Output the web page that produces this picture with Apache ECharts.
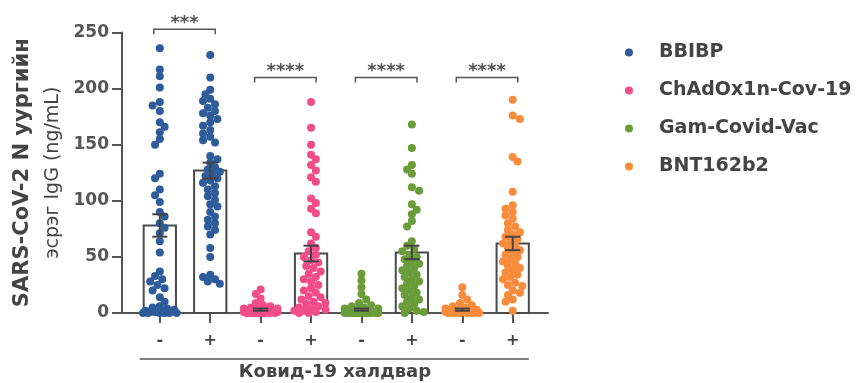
<!DOCTYPE html>
<html>
<head>
<meta charset="utf-8">
<script src="https://cdn.jsdelivr.net/npm/echarts@6/dist/echarts.min.js"></script>
<style>
  html, body { margin: 0; padding: 0; background: #fff; }
  #chart { width: 863px; height: 383px; }
</style>
</head>
<body>
<div id="chart"></div>
<script>
// vaccine groups, each split by Covid-19 infection (- / +)
const vaccines = ['BBIBP', 'ChAdOx1n-Cov-19', 'Gam-Covid-Vac', 'BNT162b2'];
const infection = ['-', '+', '-', '+', '-', '+', '-', '+'];
const colors = ['#2e5c9a', '#f24d88', '#6a9c3a', '#f98c3c'];

// bar heights (mean) and error bars (SEM)
const barMeans = [78, 127, 3, 53, 3, 54, 3, 62];
const barSem = [10, 7, 1, 7, 1, 6, 1, 6];

// individual IgG values (ng/mL)
const bbibpNeg = [236, 217, 211, 201, 188, 185, 180, 170, 166, 161, 155, 150, 124, 120, 110, 105, 99, 90, 86, 80, 76, 71, 64, 54,
  37, 33, 30, 28, 25, 22, 20, 14, 10, 6, 5, 4, 3, 2, 2, 1, 1, 0, 0, 0, 0, 0, 0];
const bbibpPos = [230, 210, 199, 195, 191, 189, 186, 183, 180, 178, 176, 173, 170, 167, 163, 160, 157, 154, 152, 140, 137, 134,
  130, 128, 126, 124, 122, 120, 118, 116, 113, 110, 107, 104, 101, 97, 95, 90, 86, 83, 80, 77, 74, 70, 58, 50, 34, 32, 30, 28, 26];
const chadNeg = [21, 17, 13, 9, 7, 6, 5, 4, 4, 3, 3, 2, 2, 2, 1, 1, 1, 1, 0, 0, 0, 0, 0, 0, 0, 0, 0, 0];
const chadPos = [188, 165, 150, 141, 137, 132, 127, 121, 117, 102, 98, 93, 89, 72, 68, 62, 58, 55, 52, 50, 47, 45, 42, 40, 37,
  35, 32, 30, 28, 25, 22, 20, 18, 15, 14, 12, 10, 9, 8, 6, 5, 4, 3, 2, 2, 1, 0, 0];
const gamNeg = [35, 29, 23, 17, 12, 9, 7, 6, 5, 4, 4, 3, 2, 2, 1, 1, 0, 0, 0, 0, 0, 0, 0, 0, 0, 0, 0, 0, 0];
const gamPos = [168, 147, 132, 128, 124, 112, 109, 97, 92, 88, 82, 77, 64, 60, 57, 55, 52, 50, 48, 46, 44, 42, 40, 38, 36, 34,
  32, 30, 28, 26, 24, 22, 20, 18, 16, 14, 12, 10, 8, 6, 4, 2, 1, 0];
const bntNeg = [23, 16, 12, 9, 7, 6, 5, 4, 3, 3, 2, 2, 1, 1, 0, 0, 0, 0, 0, 0, 0, 0];
const bntPos = [190, 176, 173, 139, 135, 108, 96, 93, 90, 87, 84, 80, 77, 74, 72, 70, 68, 66, 64, 62, 60, 58, 56, 54, 52, 50,
  48, 46, 44, 42, 40, 38, 36, 34, 32, 30, 27, 25, 24, 20, 18, 16, 12, 10, 2];

const groups = [bbibpNeg, bbibpPos, chadNeg, chadPos, gamNeg, gamPos, bntNeg, bntPos];

// significance brackets
const sigPairs = [[0, 1], [2, 3], [4, 5], [6, 7]];
const sigHeights = [253, 210, 210, 210];
const sigLabels = ['***', '****', '****', '****'];

const TEXT = '#444';
const FONT = 'DejaVu Sans';

// grid geometry (px), used for the beeswarm spacing
const grid = { left: 122, right: 315, top: 32.5, bottom: 70, containLabel: false, outerBoundsMode: 'none' };
const xMin = 0.25, xMax = 8.7, yMax = 250;
const pxX = (863 - grid.left - grid.right) / (xMax - xMin);
const pxY = (383 - grid.top - grid.bottom) / yMax;

// simple beeswarm: spread points sideways so they don't pile up
function swarm(vals, center) {
  const placed = [];
  const out = [];
  const step = 2.4, maxOff = 17, minDist = 6.5;
  vals.forEach((v, n) => {
    const py = v * pxY;
    let best = 0, bestScore = -1;
    const first = n % 2 === 0 ? 1 : -1;
    for (let k = 0; k * step <= maxOff; k++) {
      for (const s of [first, -first]) {
        const off = s * k * step;
        let md = Infinity;
        placed.forEach(p => {
          const d = Math.hypot(p[0] - off, p[1] - py);
          if (d < md) md = d;
        });
        if (md >= minDist) { best = off; bestScore = Infinity; break; }
        if (md > bestScore) { bestScore = md; best = off; }
        if (k === 0) break;
      }
      if (bestScore === Infinity) break;
    }
    placed.push([best, py]);
    out.push([center + best / pxX, v]);
  });
  return out;
}

const chart = echarts.init(document.getElementById('chart'));

const scatterSeries = vaccines.map((name, vi) => ({
  name: name,
  type: 'scatter',
  symbol: 'circle',
  symbolSize: 8,
  z: 3,
  itemStyle: { color: colors[vi], opacity: 1 },
  data: [].concat(
    swarm(groups[vi * 2], vi * 2 + 1),
    swarm(groups[vi * 2 + 1], vi * 2 + 2)
  )
}));

const option = {
  animation: false,
  backgroundColor: '#fff',
  grid: grid,
  legend: {
    orient: 'vertical',
    left: 620,
    top: 38,
    icon: 'circle',
    itemWidth: 8,
    itemHeight: 8,
    itemGap: 19,
    data: vaccines,
    textStyle: { color: TEXT, fontFamily: FONT, fontWeight: 'bold', fontSize: 19, padding: [0, 0, 0, 21] }
  },
  xAxis: {
    type: 'value',
    min: xMin,
    max: xMax,
    name: 'Ковид-19 халдвар',
    nameLocation: 'middle',
    nameGap: 50,
    nameTextStyle: { color: TEXT, fontFamily: FONT, fontWeight: 'bold', fontSize: 18 },
    axisLine: { lineStyle: { color: '#555', width: 2 } },
    axisTick: { show: true, length: 10, customValues: [1, 2, 3, 4, 5, 6, 7, 8], lineStyle: { color: '#555', width: 2 } },
    axisLabel: {
      customValues: [1, 2, 3, 4, 5, 6, 7, 8],
      formatter: v => infection[Math.round(v) - 1],
      margin: 20,
      color: TEXT, fontFamily: FONT, fontWeight: 'bold', fontSize: 16
    },
    splitLine: { show: false }
  },
  yAxis: {
    type: 'value',
    min: 0,
    max: yMax,
    interval: 50,
    name: '{a|SARS-CoV-2 N уургийн}\n{b|эсрэг IgG (ng/mL)}',
    nameLocation: 'middle',
    nameRotate: 90,
    nameGap: 54,
    nameTextStyle: {
      rich: {
        a: { color: TEXT, fontFamily: FONT, fontWeight: 'bold', fontSize: 21, lineHeight: 30 },
        b: { color: TEXT, fontFamily: FONT, fontSize: 19, lineHeight: 30 }
      }
    },
    axisLine: { show: true, lineStyle: { color: '#555', width: 2 } },
    axisTick: { show: true, length: 10, lineStyle: { color: '#555', width: 2 } },
    axisLabel: { margin: 13, color: '#555', fontFamily: FONT, fontWeight: 'bold', fontSize: 17 },
    splitLine: { show: false }
  },
  series: [
    {
      // bars (mean)
      type: 'custom',
      z: 2,
      renderItem: (params, api) => {
        const x = api.value(0), m = api.value(1);
        const tl = api.coord([x - 0.32, m]);
        const br = api.coord([x + 0.32, 0]);
        return {
          type: 'rect',
          shape: { x: tl[0], y: tl[1], width: br[0] - tl[0], height: br[1] - tl[1] },
          style: { fill: '#fff', stroke: '#4a4a4a', lineWidth: 2 }
        };
      },
      data: barMeans.map((m, i) => [i + 1, m])
    },
    ...scatterSeries,
    {
      // error bars (SEM)
      type: 'custom',
      z: 4,
      renderItem: (params, api) => {
        const x = api.value(0), lo = api.value(1), hi = api.value(2);
        const top = api.coord([x, hi]);
        const bot = api.coord([x, lo]);
        const w = 0.15 * pxX;
        const st = { stroke: '#444', lineWidth: 2 };
        return {
          type: 'group',
          children: [
            { type: 'line', shape: { x1: top[0], y1: top[1], x2: bot[0], y2: bot[1] }, style: st },
            { type: 'line', shape: { x1: top[0] - w, y1: top[1], x2: top[0] + w, y2: top[1] }, style: st },
            { type: 'line', shape: { x1: bot[0] - w, y1: bot[1], x2: bot[0] + w, y2: bot[1] }, style: st }
          ]
        };
      },
      data: barMeans.map((m, i) => [i + 1, m - barSem[i], m + barSem[i]])
    },
    {
      // significance brackets
      type: 'custom',
      z: 4,
      clip: false,
      renderItem: (params, api) => {
        const i = params.dataIndex;
        const h = api.value(1);
        const a = sigPairs[i][0] + 1, b = sigPairs[i][1] + 1;
        const l = api.coord([a - 0.12, h]);
        const r = api.coord([b + 0.1, h]);
        return {
          type: 'group',
          children: [
            {
              type: 'polyline',
              shape: { points: [[l[0], l[1] + 5], [l[0], l[1]], [r[0], r[1]], [r[0], r[1] + 5]] },
              style: { stroke: '#555', lineWidth: 1.5, fill: null }
            },
            {
              type: 'text',
              style: {
                x: (l[0] + r[0]) / 2, y: l[1] + 3,
                text: sigLabels[i],
                align: 'center', verticalAlign: 'bottom',
                fill: '#555', fontFamily: FONT, fontWeight: 'bold', fontSize: 18
              }
            }
          ]
        };
      },
      data: sigHeights.map((h, i) => [(sigPairs[i][0] + sigPairs[i][1]) / 2 + 1, h])
    }
  ]
};

chart.setOption(option);

// line over the x-axis title, spanning all groups
const p0 = chart.convertToPixel({ gridIndex: 0 }, [0.6, 0]);
const p1 = chart.convertToPixel({ gridIndex: 0 }, [8.32, 0]);
chart.setOption({
  graphic: [{
    type: 'line',
    shape: { x1: p0[0], y1: p0[1] + 46, x2: p1[0], y2: p1[1] + 46 },
    style: { stroke: '#555', lineWidth: 1.5 }
  }]
});
</script>
</body>
</html>
